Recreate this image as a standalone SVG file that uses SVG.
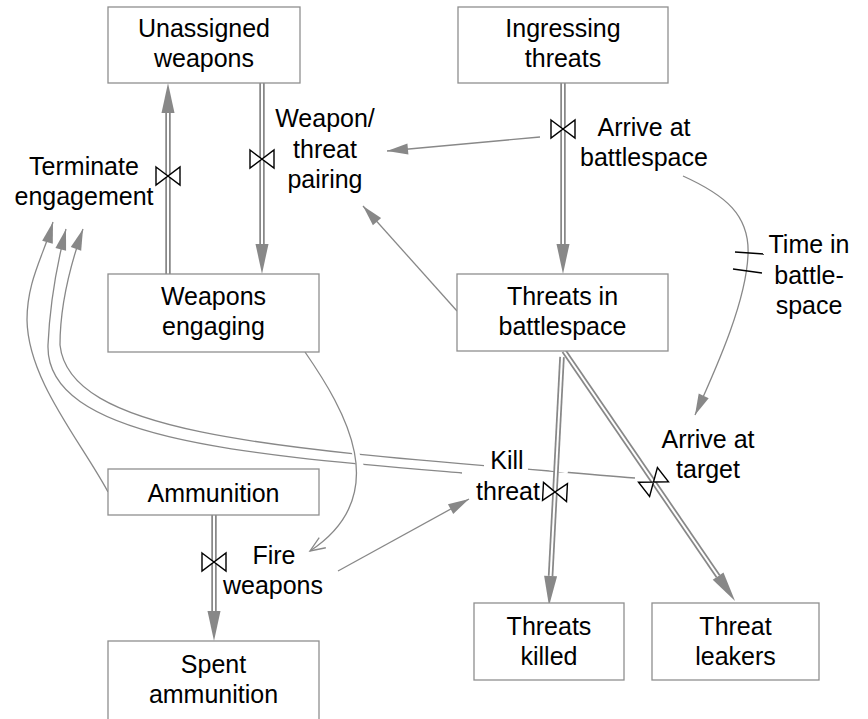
<svg xmlns="http://www.w3.org/2000/svg" width="868" height="719" viewBox="0 0 868 719">
<defs>
<style>
.box{fill:#fff;stroke:#8f8f8f;stroke-width:1.3}
text{font-family:"Liberation Sans",Arial,Helvetica,sans-serif;font-size:25px;fill:#000;text-anchor:middle}
.link{fill:none;stroke:#888;stroke-width:1.3}
.pipe{fill:none;stroke:#888;stroke-width:5.5}
.pipein{fill:none;stroke:#fff;stroke-width:2}
.valve{fill:#fff;stroke:#000;stroke-width:1.4}
.gap{fill:none;stroke:#fff}
.delay{stroke:#000;stroke-width:1.3}
</style>
<marker id="ah" markerUnits="userSpaceOnUse" viewBox="0 0 22 12" markerWidth="22" markerHeight="12" refX="21" refY="5.5" orient="auto" overflow="visible"><path d="M0,0 L21,5.5 L0,11 z" fill="#888"/></marker>
<marker id="open" markerUnits="userSpaceOnUse" viewBox="0 0 16 13" markerWidth="16" markerHeight="13" refX="15" refY="6" orient="auto" overflow="visible"><path d="M0,0 L15,6 L0,12" fill="none" stroke="#888" stroke-width="1.3"/></marker>
<marker id="pa" markerUnits="userSpaceOnUse" viewBox="0 0 31 14" markerWidth="31" markerHeight="14" refX="0" refY="6.5" orient="auto" overflow="visible"><path d="M0,0 L30,6.5 L0,13 z" fill="#888"/></marker>
<path id="bow" d="M-12,-9 L12,9 L12,-9 L-12,9 Z"/>
</defs>
<rect width="868" height="719" fill="#fff"/>

<g id="connectors">
  <!-- information links -->
  <path class="link" d="M540,137 L387,151" marker-end="url(#ah)"/>
  <path class="link" d="M457,311 L363,206" marker-end="url(#ah)"/>
  <path class="link" d="M683,176 C725,195 750,215 748,255 C746,300 720,360 695,415" marker-end="url(#ah)"/>
  <path class="link" d="M338,571 L469,499" marker-end="url(#ah)"/>
  <path class="link" d="M108,492 C80,440 28,380 27,320 C27,280 44,255 53,222" marker-end="url(#ah)"/>
  <path class="link" d="M462,473 C250,455 45,440 48,345 C50,300 58,260 66,229" marker-end="url(#ah)"/>
  <path class="link" d="M635,478 C300,450 70,440 60,345 C60,300 72,260 83,229" marker-end="url(#ah)"/>
  <!-- crossing gaps -->
  <line class="gap" x1="351" y1="440" x2="363" y2="474" stroke-width="7"/>
  <line class="gap" x1="546" y1="467" x2="568" y2="471" stroke-width="5"/>
  <path class="link" d="M305,352 C345,410 395,495 310,551" marker-end="url(#open)"/>
  <!-- delay marks -->
  <line class="delay" x1="735" y1="252" x2="764" y2="254"/>
  <line class="delay" x1="733" y1="269" x2="762" y2="273"/>
  <!-- flow pipes -->
  <path class="pipe" d="M168,274 L168,113" marker-end="url(#pa)"/>
  <path class="pipein" d="M168,274 L168,113"/>
  <path class="pipe" d="M262,83 L262,244" marker-end="url(#pa)"/>
  <path class="pipein" d="M262,83 L262,244"/>
  <path class="pipe" d="M563,83 L563,244" marker-end="url(#pa)"/>
  <path class="pipein" d="M563,83 L563,244"/>
  <path class="pipe" d="M214,515 L214,611" marker-end="url(#pa)"/>
  <path class="pipein" d="M214,515 L214,611"/>
  <path class="pipe" d="M562,357 L550.6,576" marker-end="url(#pa)"/>
  <path class="pipein" d="M562,357 L550.6,576"/>
  <path class="pipe" d="M564,351 L718.1,576.2" marker-end="url(#pa)"/>
  <path class="pipein" d="M564,351 L718.1,576.2"/>
</g>

<g id="unassigned-weapons">
  <rect class="box" x="108" y="7" width="192" height="76"/>
  <text x="204" y="37">Unassigned</text>
  <text x="204" y="67">weapons</text>
</g>
<g id="ingressing-threats">
  <rect class="box" x="458" y="7" width="210" height="76"/>
  <text x="563" y="37">Ingressing</text>
  <text x="563" y="67">threats</text>
</g>
<g id="weapons-engaging">
  <rect class="box" x="108" y="274" width="211" height="78"/>
  <text x="213.5" y="305">Weapons</text>
  <text x="213.5" y="335">engaging</text>
</g>
<g id="threats-in-battlespace">
  <rect class="box" x="457" y="274" width="211" height="77"/>
  <text x="562.5" y="305">Threats in</text>
  <text x="562.5" y="335">battlespace</text>
</g>
<g id="ammunition">
  <rect class="box" x="108" y="469" width="211" height="46"/>
  <text x="213.5" y="502">Ammunition</text>
</g>
<g id="spent-ammunition">
  <rect class="box" x="108" y="641" width="211" height="90"/>
  <text x="213.5" y="673">Spent</text>
  <text x="213.5" y="703">ammunition</text>
</g>
<g id="threats-killed">
  <rect class="box" x="474" y="603" width="150" height="77"/>
  <text x="549" y="635">Threats</text>
  <text x="549" y="665">killed</text>
</g>
<g id="threat-leakers">
  <rect class="box" x="652" y="603" width="167" height="77"/>
  <text x="735.5" y="635">Threat</text>
  <text x="735.5" y="665">leakers</text>
</g>

<g id="terminate-engagement">
  <use href="#bow" class="valve" transform="translate(168,176)"/>
  <text x="84" y="175">Terminate</text>
  <text x="84" y="205">engagement</text>
</g>
<g id="weapon-threat-pairing">
  <use href="#bow" class="valve" transform="translate(262,159)"/>
  <text x="325" y="127">Weapon/</text>
  <text x="325" y="158">threat</text>
  <text x="325" y="188">pairing</text>
</g>
<g id="arrive-at-battlespace">
  <use href="#bow" class="valve" transform="translate(563,129)"/>
  <text x="644" y="136">Arrive at</text>
  <text x="644" y="166">battlespace</text>
</g>
<g id="time-in-battlespace">
  <text x="809" y="253">Time in</text>
  <text x="809" y="284">battle-</text>
  <text x="809" y="314">space</text>
</g>
<g id="fire-weapons">
  <use href="#bow" class="valve" transform="translate(214,562)"/>
  <text x="274" y="564">Fire</text>
  <text x="273" y="594">weapons</text>
</g>
<g id="kill-threat">
  <rect x="484" y="450" width="44" height="23" fill="#fff"/>
  <use href="#bow" class="valve" transform="translate(555,492) rotate(3)"/>
  <text x="507" y="469">Kill</text>
  <text x="508" y="500">threat</text>
</g>
<g id="arrive-at-target">
  <use href="#bow" class="valve" transform="translate(653.5,482) rotate(-38)"/>
  <text x="708" y="448">Arrive at</text>
  <text x="708" y="478">target</text>
</g>
</svg>
